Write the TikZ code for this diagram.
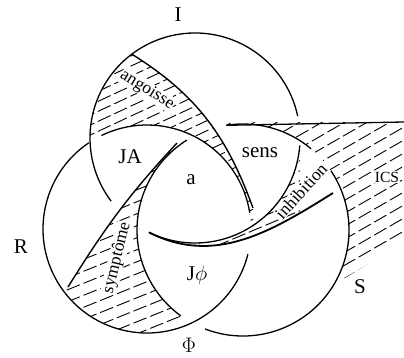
\RequirePackage{fix-cm}
\documentclass[tikz,border=0pt]{standalone}
\usepackage{fontspec}
\setmainfont{Liberation Serif}
\usetikzlibrary{calc}
\tikzset{
  knot/.style={line width=1.3pt},
  lune/.style={line width=1.4pt},
  hatch/.style={line width=0.9pt,dash pattern=on 14pt off 4pt},
  lbl/.style={font=\fontsize{21}{24}\selectfont},
  fieldlbl/.style={font=\fontsize{17.5}{20}\selectfont,fill=white,inner sep=0.5pt}
}

\begin{document}
\begin{tikzpicture}[x=1pt,y=1pt]
  \useasboundingbox (0,0) rectangle (404,357);
  % centres of the three rings
  \coordinate (cI) at (195,219);
  \coordinate (cR) at (147,128);
  \coordinate (cS) at (243,127);
  \def\radI{105} \def\radR{104} \def\radS{106}
  % ends of the fields
  \coordinate (angA) at ($(cI)+(127:\radI)$);
  \coordinate (angB) at (253,149);
  \coordinate (symA) at (68,70);
  \coordinate (symB) at (177,214);
  \coordinate (inhA) at ($(cI)+(244:\radI)$);
  \coordinate (inhB) at (333,164);
  \coordinate (icsA) at ($(cS)+(99:\radS)$);
  \coordinate (icsB) at (404,235);

  % angoisse
  \begin{scope}
    \clip (cI) circle[radius=\radI];
    \clip (angA) to[out=-32,in=110] (angB) -- (253,100) -- (40,100) -- (40,303) -- cycle;
    \clip ($(cR)+(0:\radR)$) arc[start angle=0,end angle=180,radius=\radR]
      -- (43,400) -- (420,400) -- (420,128) -- cycle;
    \foreach \c in {-200,-190,...,360}
      \draw[hatch] (0,\c) -- ++(404,188);
  \end{scope}
  % symptome
  \begin{scope}
    \clip (cR) circle[radius=\radR];
    \clip (symA) to[out=58,in=227] (symB) -- (250,250) -- (250,-20) -- (40,-20) -- (40,30) -- cycle;
    \clip ($(cS)+(90:\radS)$) arc[start angle=90,end angle=270,radius=\radS]
      -- (-10,21) -- (-10,233) -- cycle;
    \foreach \c in {-200,-188,...,360}
      \draw[hatch] (0,\c) -- ++(404,163);
  \end{scope}
  % inhibition
  \begin{scope}
    \clip (cS) circle[radius=\radS];
    \clip (inhA) to[out=-27,in=212] (inhB) -- (360,300) -- (140,300) -- cycle;
    \clip ($(cI)+(180:\radI)$) arc[start angle=180,end angle=360,radius=\radI]
      -- (300,-50) -- (90,-50) -- cycle;
    \foreach \c in {-200,-190,...,360}
      \draw[hatch] (0,\c) -- ++(404,170);
  \end{scope}
  % ICS
  \begin{scope}
    \clip (226,235) -- (404,235) -- (404,115) -- (345,79) -- (226,79) -- cycle;
    \clip ($(cS)+(-70:\radS)$) arc[start angle=-70,end angle=115,radius=\radS]
      -- (198,420) -- (450,420) -- (450,-20) -- (279,-20) -- cycle;
    \foreach \c in {-250,-237,...,360}
      \draw[hatch] (0,\c) -- ++(404,233);
  \end{scope}

  % labels
  \node[lbl] (labI) at (178,342) {I};
  \node[lbl] (labR) at (21,110) {R};
  \node[lbl] (labS) at (360,70) {S};
  \node[lbl] (labPhi) at (189,12) {$\Phi$};
  \node[lbl] (labJA) at (130,200) {JA};
  \node[lbl] (laba) at (191,177) {a};
  \node[lbl] (labsens) at (260,204) {sens};
  \node[lbl] (labJphi) at (197,82) {J$\phi$};
  \node[fieldlbl,font=\fontsize{15.5}{18}\selectfont] (labics) at (387,180) {ICS};
  \node[fieldlbl,rotate=-32] (labang) at (147,267) {angoisse};
  \node[fieldlbl,rotate=48] (labinh) at (301,166) {inhibition};
  \node[fieldlbl,rotate=76] (labsym) at (117,99) {symptôme};

  % the three rings, cut where they pass under
  \foreach \ring/\rad/\from/\to in {cI/\radI/12/217, cI/\radI/244/356,
      cR/\radR/9/116, cR/\radR/124/346,
      cS/\radS/50/99, cS/\radS/122/234, cS/\radS/249/394}
    \draw[knot] ($(\ring)+(\from:\rad)$) arc[start angle=\from,end angle=\to,radius=\rad];
  % edges of the fields
  \draw[lune] (angA) to[out=-32,in=110] (angB);
  \draw[lune] (symA) to[out=58,in=227] (symB);
  \draw[lune,line width=1.8pt] (inhA) to[out=-27,in=212] (inhB);
  \draw[knot] (icsA) -- (icsB);
\end{tikzpicture}
\end{document}
